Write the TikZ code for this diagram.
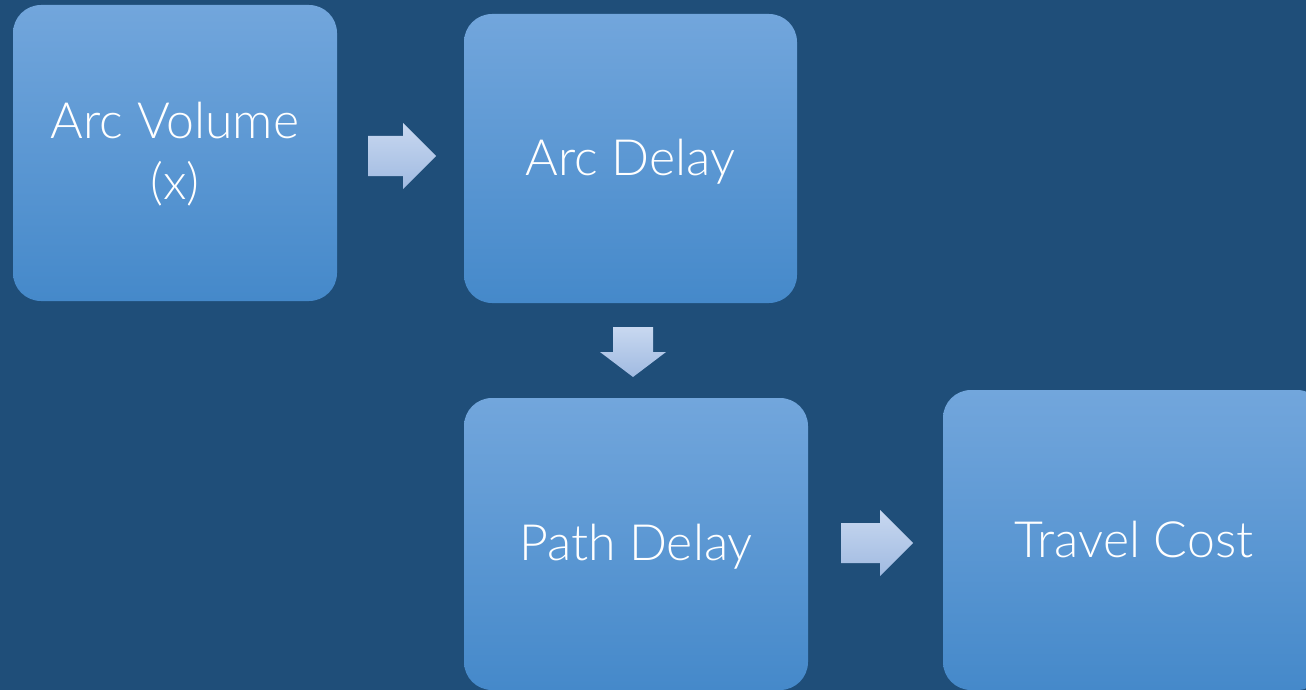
\documentclass[tikz,border=0pt]{standalone}
\usepackage{fontspec}
\setmainfont{Lato Light}
\definecolor{bgblue}{RGB}{31,78,121}
\definecolor{boxtop}{RGB}{114,166,220}
\definecolor{boxmid}{RGB}{90,155,218}
\definecolor{boxbot}{RGB}{69,137,202}
\definecolor{arrtop}{RGB}{200,216,240}
\definecolor{arrbot}{RGB}{160,186,225}
\tikzset{
  stepbox/.style={rounded corners=28pt, top color=boxtop, middle color=boxmid,
    bottom color=boxbot, draw=none, text=white, align=center, inner sep=0pt,
    font=\fontsize{50}{61}\selectfont},
  steptext/.style={text=white, align=center, inner sep=0pt,
    font=\fontsize{50}{61}\selectfont},
  flowarrow/.style={top color=arrtop, bottom color=arrbot, draw=none}
}
% block arrow pointing right: tail x, centre y, length, head length
\newcommand\rightblock[4]{%
  \shade[flowarrow] (#1,#2-20) -- (#1+#3-#4,#2-20) -- (#1+#3-#4,#2-33)
    -- (#1+#3,#2) -- (#1+#3-#4,#2+33) -- (#1+#3-#4,#2+20) -- (#1,#2+20) -- cycle;}
% block arrow pointing down: centre x, tail y, length, head length
\newcommand\downblock[4]{%
  \shade[flowarrow] (#1-20,#2) -- (#1+20,#2) -- (#1+20,#2+#3-#4) -- (#1+33,#2+#3-#4)
    -- (#1,#2+#3) -- (#1-33,#2+#3-#4) -- (#1-20,#2+#3-#4) -- cycle;}
\begin{document}
\begin{tikzpicture}[x=1pt,y=-1pt]
  \useasboundingbox (0,0) rectangle (1306,690);
  \fill[bgblue] (0,0) rectangle (1306,690);
  \clip (0,0) rectangle (1306,690);
  \node[stepbox, minimum width=324pt, minimum height=296pt,
    label={[steptext, yshift=-1pt]center:Arc Volume\\(x)}] (volume) at (175,153) {};
  \node[stepbox, minimum width=333pt, minimum height=289pt,
    label={[steptext, yshift=-3pt]center:Arc Delay}] (arcdelay) at (630.5,158.5) {};
  \node[stepbox, minimum width=344pt, minimum height=292pt,
    label={[steptext, yshift=-3pt]center:Path Delay}] (pathdelay) at (636,544) {};
  \node[stepbox, minimum width=382pt, minimum height=300pt,
    label={[steptext]center:Travel Cost}] (cost) at (1134,540) {};
  \rightblock{368}{156}{68}{33}
  \downblock{633}{327}{50}{25}
  \rightblock{841}{543}{72}{33}
\end{tikzpicture}
\end{document}
